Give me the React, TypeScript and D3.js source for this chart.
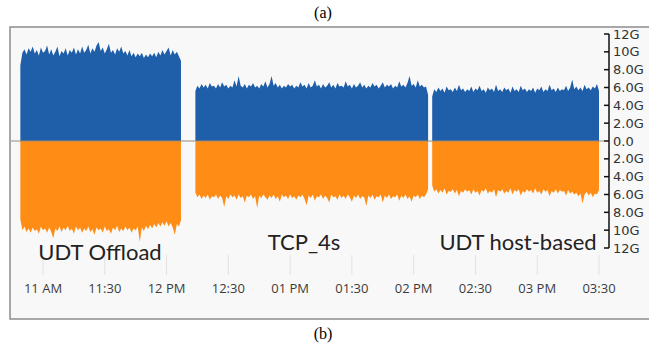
import * as d3 from "d3";
import React, { useEffect, useRef } from "react";

// sample period: 1 minute, each segment starts at the given time
const segStarts = ["10:49", "12:14", "14:09"];
const segLabels = ["UDT Offload", "TCP_4s", "UDT host-based"];

// inbound traffic (Gbps), drawn above zero
const inSeg1 = [
  8.5, 9.9, 10.3, 9.7, 10.4, 10.0, 10.6, 9.8, 10.2, 9.6, 10.5, 9.9, 10.1, 10.7, 9.7, 10.3, 9.6, 10.0, 10.6, 9.5,
  10.1, 9.8, 10.4, 9.6, 10.2, 9.9, 10.5, 9.7, 10.3, 9.8, 10.6, 9.9, 10.2, 10.8, 9.8, 10.4, 10.0, 10.7, 11.1, 10.1,
  10.5, 9.8, 10.3, 10.9, 9.9, 10.2, 9.7, 10.4, 10.0, 10.6, 9.8, 10.1, 9.6, 10.2, 9.5, 9.9, 9.4, 9.8, 9.5, 9.9,
  9.3, 9.7, 9.4, 9.8, 9.5, 9.9, 9.4, 10.0, 9.6, 10.2, 9.7, 10.1, 10.5, 9.6, 10.2, 9.7, 10.0, 9.5, 9.0,
];
const inSeg2 = [
  5.6, 6.2, 5.9, 6.4, 6.0, 6.3, 5.9, 6.5, 6.1, 6.2, 5.9, 6.4, 6.0, 6.6, 6.1, 6.3, 5.9, 6.2, 6.0, 6.8,
  6.1, 7.3, 6.2, 6.0, 6.4, 5.9, 6.3, 6.1, 6.5, 6.0, 6.2, 5.9, 6.4, 6.1, 6.7, 6.0, 6.4, 7.3, 6.2, 6.5,
  6.0, 6.3, 5.9, 6.2, 6.0, 6.4, 6.1, 6.3, 5.9, 6.2, 6.0, 6.6, 6.1, 6.3, 5.9, 6.5, 6.0, 6.2, 6.8, 6.1,
  6.3, 5.9, 6.4, 6.0, 6.2, 6.6, 6.0, 6.3, 5.9, 6.5, 6.1, 6.2, 6.0, 6.7, 6.1, 6.3, 5.9, 6.4, 6.0, 6.2,
  6.6, 6.0, 6.3, 5.9, 6.2, 6.0, 6.5, 6.1, 6.3, 5.9, 6.2, 6.6, 6.0, 6.3, 6.1, 6.4, 5.9, 6.2, 6.0, 6.7,
  6.1, 6.3, 6.0, 6.5, 7.3, 6.2, 6.4, 6.0, 6.8, 6.1, 6.3, 6.0, 6.1, 5.2,
];
const inSeg3 = [
  5.0, 5.8, 5.5, 6.0, 5.6, 5.9, 5.4, 6.1, 5.7, 5.8, 5.5, 6.0, 5.6, 6.3, 5.7, 5.9, 5.5, 5.8, 5.6, 6.1,
  5.5, 5.9, 5.7, 6.2, 5.6, 5.8, 5.4, 6.0, 5.7, 5.9, 5.5, 6.3, 5.6, 5.8, 5.5, 6.0, 5.7, 5.9, 5.4, 6.1,
  5.6, 5.8, 5.5, 6.2, 5.7, 5.9, 5.5, 5.8, 5.6, 6.0, 5.4, 5.9, 5.7, 6.1, 5.5, 5.8, 5.6, 6.3, 5.7, 5.9,
  5.5, 6.0, 5.6, 5.8, 5.7, 6.2, 5.6, 6.0, 6.9, 5.8, 6.1, 5.7, 6.0, 5.6, 6.3, 5.8, 6.0, 5.7, 6.1, 5.9,
  6.4, 5.6,
];

// outbound traffic (Gbps), drawn below zero
const outSeg1 = [
  8.8, 10.0, 9.6, 10.2, 9.8, 10.3, 9.7, 10.1, 9.9, 10.4, 9.6, 10.0, 9.8, 10.3, 9.7, 10.2, 10.9, 9.8, 10.1, 9.6,
  10.2, 9.7, 10.0, 9.5, 10.1, 9.8, 10.4, 9.6, 10.0, 9.7, 10.3, 9.8, 10.1, 9.6, 10.2, 9.9, 10.5, 9.7, 10.0, 9.8,
  10.3, 9.6, 10.1, 9.9, 10.4, 9.7, 10.0, 9.5, 10.2, 9.8, 10.1, 9.6, 10.0, 9.7, 10.3, 9.8, 10.0, 9.6, 11.3, 9.7,
  10.1, 9.5, 9.9, 9.4, 9.8, 9.3, 9.7, 9.2, 9.6, 9.1, 9.5, 9.0, 9.6, 9.2, 9.7, 10.5, 9.3, 9.6, 8.9,
];
const outSeg2 = [
  5.8, 6.3, 6.0, 6.5, 6.1, 6.4, 6.0, 6.6, 6.2, 6.3, 6.0, 6.5, 6.1, 6.4, 7.4, 6.2, 6.5, 6.0, 6.3, 6.1,
  6.6, 6.0, 6.4, 6.2, 6.9, 6.1, 6.3, 6.0, 6.5, 6.2, 7.5, 6.1, 6.4, 6.0, 6.3, 6.6, 6.1, 6.4, 6.0, 6.5,
  6.2, 6.8, 6.0, 6.3, 6.1, 6.5, 6.0, 6.4, 6.2, 6.6, 6.1, 6.3, 6.0, 6.5, 7.2, 6.1, 6.4, 6.0, 6.7, 6.2,
  6.3, 6.0, 6.5, 6.1, 6.4, 6.9, 6.0, 6.3, 6.2, 6.6, 6.0, 6.4, 6.1, 6.5, 6.0, 6.3, 6.8, 6.1, 6.4, 6.0,
  6.5, 6.2, 6.3, 7.3, 6.1, 6.4, 6.0, 6.6, 6.2, 6.3, 6.0, 6.9, 6.1, 6.4, 6.0, 6.5, 6.2, 6.3, 6.0, 6.7,
  6.1, 6.4, 6.0, 6.5, 6.2, 6.8, 6.1, 6.3, 6.0, 6.5, 6.1, 6.3, 6.0, 5.4,
];
const outSeg3 = [
  5.0, 5.7, 5.4, 5.9, 5.5, 5.8, 5.3, 6.0, 5.6, 5.7, 5.4, 5.9, 5.5, 6.2, 5.6, 5.8, 5.4, 5.7, 5.5, 6.0,
  5.4, 5.8, 5.6, 6.1, 5.5, 5.7, 5.3, 5.9, 5.6, 5.8, 5.4, 6.3, 5.5, 5.7, 5.4, 5.9, 5.6, 5.8, 5.3, 6.0,
  5.5, 5.7, 5.4, 6.1, 5.6, 5.8, 5.4, 5.7, 5.5, 5.9, 5.3, 5.8, 5.6, 6.0, 5.4, 5.7, 5.5, 6.2, 5.6, 5.8,
  5.4, 5.9, 5.5, 5.7, 5.6, 6.1, 5.5, 5.9, 5.7, 6.0, 5.8, 6.2, 5.9, 7.0, 6.0, 5.7, 6.1, 5.8, 6.3, 5.9,
  6.0, 5.5,
];

const xTickLabels = ["11 AM", "11:30", "12 PM", "12:30", "01 PM", "01:30", "02 PM", "02:30", "03 PM", "03:30"];
const yTickValues = [12, 10, 8, 6, 4, 2, 0, -2, -4, -6, -8, -10, -12];
const yTickLabels = ["12G", "10G", "8.0G", "6.0G", "4.0G", "2.0G", "0.0", "2.0G", "4.0G", "6.0G", "8.0G", "10G", "12G"];

const BLUE = "#1f5ea8";
const ORANGE = "#ff8c14";
const UI_FONT = "'Open Sans', 'Liberation Sans', sans-serif";

const at = (hm: string) => {
  const [h, m] = hm.split(":").map(Number);
  return new Date(2024, 0, 1, h, m);
};

const App: React.FC = () => {
  const svgRef = useRef<SVGSVGElement | null>(null);
  const width = 649;
  const height = 345;

  useEffect(() => {
    const svg = d3.select(svgRef.current);
    svg.selectAll("*").remove();
    svg.attr("width", width).attr("height", height);

    const frame = { left: 10, top: 27, bottom: 319 };
    const axisX = 609;

    const x = d3.scaleTime().domain([at("11:00"), at("15:30")]).range([43, 599]);
    const y = d3.scaleLinear().domain([-12, 12]).range([248, 34]);

    // figure captions
    svg.append("text").attr("x", 323).attr("y", 18).attr("text-anchor", "middle")
      .attr("font-family", "'Liberation Serif', serif").attr("font-size", 16).text("(a)");
    svg.append("text").attr("x", 323).attr("y", 339).attr("text-anchor", "middle")
      .attr("font-family", "'Liberation Serif', serif").attr("font-size", 16).text("(b)");

    // panel frame
    svg.append("rect")
      .attr("x", frame.left).attr("y", frame.top)
      .attr("width", width + 20).attr("height", frame.bottom - frame.top)
      .attr("fill", "#f8f8f8").attr("stroke", "#8c8c8c").attr("stroke-width", 1.5);

    // x grid stubs in the axis band
    const xTicks = x.ticks(d3.timeMinute.every(30)!);
    svg.append("g").selectAll("line").data(xTicks).enter().append("line")
      .attr("x1", (d) => x(d)).attr("x2", (d) => x(d))
      .attr("y1", 255).attr("y2", 275)
      .attr("stroke", "#e2e2e2").attr("stroke-width", 1);

    svg.append("g").selectAll("text").data(xTicks).enter().append("text")
      .attr("x", (d) => x(d)).attr("y", 293)
      .attr("text-anchor", "middle")
      .attr("font-family", UI_FONT).attr("font-size", 13)
      .attr("fill", "#3c3c3c")
      .text((_, i) => xTickLabels[i]);

    const segIn = [inSeg1, inSeg2, inSeg3];
    const segOut = [outSeg1, outSeg2, outSeg3];

    const toSeries = (vals: number[], start: string, sign: number) =>
      vals.map((v, i) => ({ t: d3.timeMinute.offset(at(start), i), v: sign * v }));

    const area = d3.area<{ t: Date; v: number }>()
      .x((d) => x(d.t))
      .y0(y(0))
      .y1((d) => y(d.v));

    segStarts.forEach((start, s) => {
      svg.append("path").attr("d", area(toSeries(segIn[s], start, 1))!).attr("fill", BLUE);
      svg.append("path").attr("d", area(toSeries(segOut[s], start, -1))!).attr("fill", ORANGE);
    });

    // zero line
    svg.append("line")
      .attr("x1", frame.left + 1).attr("x2", axisX - 5)
      .attr("y1", y(0)).attr("y2", y(0))
      .attr("stroke", "#9a8a78").attr("stroke-width", 1.2);

    // test labels
    const labelPos = [
      { x: 100, y: 260 },
      { x: 304, y: 250 },
      { x: 518, y: 250 },
    ];
    svg.append("g").selectAll("text").data(segLabels).enter().append("text")
      .attr("x", (_, i) => labelPos[i].x).attr("y", (_, i) => labelPos[i].y)
      .attr("text-anchor", "middle")
      .attr("font-family", "Lato, sans-serif").attr("font-size", 22)
      .attr("fill", "#222")
      .text((d) => d);

    // right y axis
    const yAxis = svg.append("g");
    yAxis.append("line")
      .attr("x1", axisX).attr("x2", axisX)
      .attr("y1", y(12)).attr("y2", y(-12))
      .attr("stroke", "#111").attr("stroke-width", 1.5);
    yAxis.selectAll("line.tick").data(yTickValues).enter().append("line")
      .attr("class", "tick")
      .attr("x1", axisX - 5).attr("x2", axisX)
      .attr("y1", (d) => y(d)).attr("y2", (d) => y(d))
      .attr("stroke", "#111").attr("stroke-width", 1.5);
    yAxis.selectAll("text").data(yTickValues).enter().append("text")
      .attr("x", axisX + 4).attr("y", (d) => y(d))
      .attr("dy", "0.35em")
      .attr("font-family", "'DejaVu Sans', sans-serif").attr("font-size", 13)
      .attr("fill", "#333")
      .text((_, i) => yTickLabels[i]);
  }, []);

  return (
    <div style={{ position: "absolute", left: 0, top: 0 }}>
      <svg ref={svgRef} style={{ display: "block" }}></svg>
    </div>
  );
};

export default App;
